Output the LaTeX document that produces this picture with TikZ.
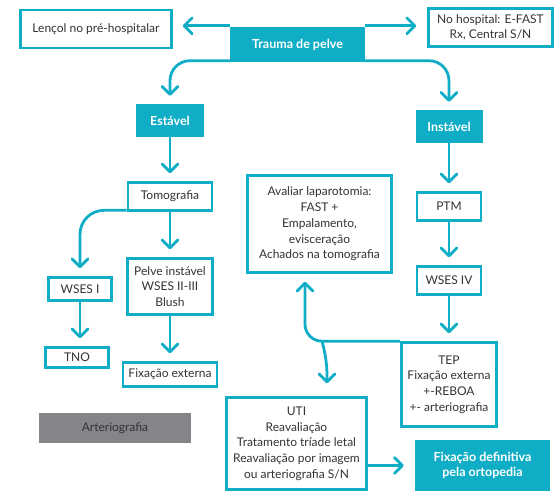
\documentclass[tikz,border=0pt]{standalone}
\usepackage{fontspec}
\setmainfont{Lato}
\usetikzlibrary{arrows.meta, positioning}
\definecolor{tealbox}{HTML}{10ADC6}
\definecolor{greybox}{HTML}{838588}
\definecolor{txtgrey}{HTML}{333333}

\begin{document}
\begin{tikzpicture}[
    x=1pt, y=-1pt,
    font=\fontsize{12}{15.7}\selectfont,
    box/.style={rectangle, draw=tealbox, line width=2.6pt, fill=white, text=txtgrey,
                align=center, inner sep=2pt},
    fillbox/.style={rectangle, fill=tealbox, text=white, align=center,
                font=\fontsize{12.5}{14.5}\selectfont\bfseries},
    arr/.style={-{Straight Barb[length=8pt, width=16pt, round]}, line width=2.8pt,
                draw=tealbox, shorten >=8pt},
]
\useasboundingbox (0,0) rectangle (560,496);

% Top row
\node[fillbox, minimum width=135pt, minimum height=35pt] (trauma) at (297.5,44.5) {Trauma de pelve};
\node[box, minimum width=151pt, minimum height=38pt] (lencol) at (96,29) {Lençol no pré-hospitalar};
\node[box, minimum width=124pt, minimum height=38pt] (hosp) at (490.5,27.5) {No hospital: E-FAST\\Rx, Central S/N};

\node[fillbox, minimum width=68pt, minimum height=33pt] (estavel) at (170,120.5) {Estável};
\node[fillbox, minimum width=67pt, minimum height=33pt] (instavel) at (449,126.5) {Instável};

% Stable branch
\node[box, minimum width=84pt, minimum height=28pt] (tomo) at (170,196.5) {Tomografia};
\node[box, minimum width=63pt, minimum height=23pt] (wses1) at (80,289) {WSES I};
\node[box, minimum width=85pt, minimum height=56pt] (pelve) at (170,286.5) {Pelve instável\\WSES II-III\\Blush};
\node[box, minimum width=63pt, minimum height=20pt] (tno) at (77,357.5) {TNO};
\node[box, minimum width=94pt, minimum height=24pt] (fixext) at (170,374.5) {Fixação externa};
\node[rectangle, fill=greybox, text=txtgrey, minimum width=152pt, minimum height=30pt] (arterio) at (115,428) {Arteriografia};

% Unstable branch
\node[box, minimum width=144pt, minimum height=97pt] (aval) at (319.5,224) {Avaliar laparotomia:\\FAST +\\Empalamento,\\evisceração\\Achados na tomografia};
\node[box, minimum width=64pt, minimum height=28pt] (ptm) at (449,206.5) {PTM};
\node[box, minimum width=64pt, minimum height=28pt] (wses4) at (449,280.5) {WSES IV};
\node[box, minimum width=95pt, minimum height=84pt] (tep) at (449,384.5) {TEP\\Fixação externa\\+-REBOA\\+- arteriografia};
\node[box, minimum width=140pt, minimum height=92pt] (uti) at (296.5,443.5) {UTI\\Reavaliação\\Tratamento tríade letal\\Reavaliação por imagem\\ou arteriografia S/N};
\node[fillbox, minimum width=135pt, minimum height=51pt] (fixdef) at (482.5,465.5) {Fixação definitiva\\pela ortopedia};

\coordinate (jn) at (322,341);

\draw[arr, shorten >=10pt] ([yshift=1pt]trauma.north west) -- ([yshift=1pt]trauma.north west -| lencol.east);
\draw[arr, shorten >=11pt] ([yshift=1pt]trauma.north east) -- ([yshift=1pt]trauma.north east -| hosp.west);
\draw[arr, rounded corners=20pt] ([yshift=1.5pt]trauma.south west) -| (estavel.north);
\draw[arr, rounded corners=20pt] ([yshift=1.5pt]trauma.south east) -| (instavel.north);

\draw[arr] (estavel) -- (tomo);
\draw[arr] (tomo) -- (pelve);
\draw[arr, rounded corners=24pt] ([yshift=1.5pt]tomo.south west) -| (wses1.north);
\draw[arr] (wses1) -- (wses1 |- tno.north);
\draw[arr] (pelve) -- (fixext);

\draw[arr] (instavel) -- (ptm);
\draw[arr] (ptm) -- (wses4);
\draw[arr] (wses4) -- (tep);

% TEP back to laparotomy and ICU
\draw[arr, rounded corners=17pt] (tep.north west) -| ([xshift=-14.5pt]aval.south);
\draw[arr, shorten >=13pt] (jn) to[out=-75, in=90] ([xshift=30.5pt]uti.north);
\draw[arr, shorten >=11pt] (uti.east |- fixdef) -- (fixdef.west);

\end{tikzpicture}
\end{document}
